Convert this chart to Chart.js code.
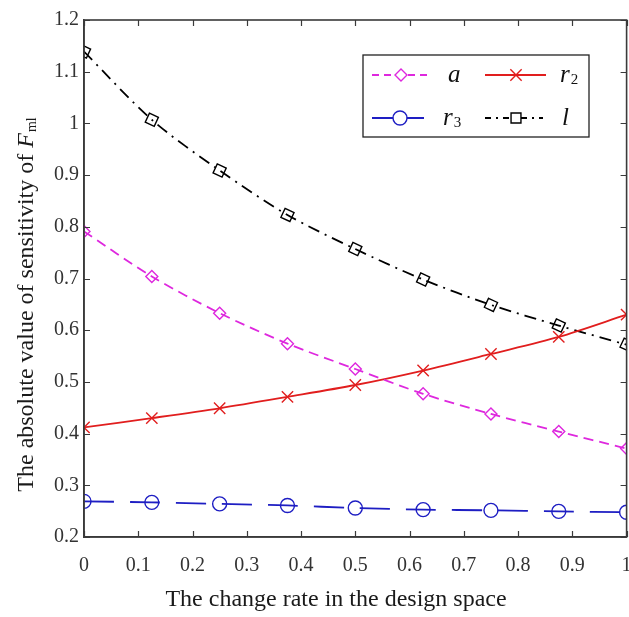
<!DOCTYPE html>
<html>
<head>
<meta charset="utf-8">
<script src="https://cdn.jsdelivr.net/npm/chart.js@4.4.1/dist/chart.umd.min.js"></script>
<style>
html,body{margin:0;padding:0;background:#fff;overflow:hidden;}
#wrap{width:629px;height:617px;overflow:hidden;}
</style>
</head>
<body>
<div id="wrap"><canvas id="c" width="636" height="617"></canvas></div>
<script>
// ---- data ----
const xValues = [0, 0.125, 0.25, 0.375, 0.5, 0.625, 0.75, 0.875, 1];
const seriesA  = [0.791, 0.704, 0.633, 0.574, 0.525, 0.477, 0.438, 0.404, 0.371];
const seriesR2 = [0.412, 0.430, 0.449, 0.471, 0.494, 0.522, 0.554, 0.587, 0.630];
const seriesR3 = [0.269, 0.267, 0.264, 0.261, 0.256, 0.253, 0.2515, 0.2495, 0.248];
const seriesL  = [1.139, 1.007, 0.909, 0.823, 0.757, 0.698, 0.649, 0.609, 0.572];
const xTickLabels = ['0','0.1','0.2','0.3','0.4','0.5','0.6','0.7','0.8','0.9','1'];
const yTickLabels = ['0.2','0.3','0.4','0.5','0.6','0.7','0.8','0.9','1','1.1','1.2'];
const xTitle = 'The change rate in the design space';
const yTitleMain = 'The absolute value of sensitivity of ';
const yTitleVar = 'F';
const yTitleSub = 'ml';
// legend: [base, subscript]
const legendNames = [['a',''],['r','2'],['r','3'],['l','']];

const FONT = '"Liberation Serif", "Times New Roman", serif';
const MAGENTA = 'rgb(222,40,222)';
const RED = 'rgb(225,30,30)';
const BLUE = 'rgb(30,30,195)';
const BLACK = 'rgb(0,0,0)';

function pts(ys){ return xValues.map((x,i)=>({x:x,y:ys[i]})); }

const datasets = [
  {label:'a', data:pts(seriesA), borderColor:MAGENTA, borderWidth:1.8, borderDash:[10,6],
   pointStyle:'rectRot', pointRadius:6, pointBorderColor:MAGENTA, pointBackgroundColor:'rgba(0,0,0,0)', pointBorderWidth:1.4, tension:0.3},
  {label:'r2', data:pts(seriesR2), borderColor:RED, borderWidth:1.8, borderDash:[],
   pointStyle:'crossRot', pointRadius:8, pointBorderColor:RED, pointBackgroundColor:'rgba(0,0,0,0)', pointBorderWidth:1.4, tension:0.3},
  {label:'r3', data:pts(seriesR3), borderColor:BLUE, borderWidth:1.8, borderDash:[30,16],
   pointStyle:'circle', pointRadius:7, pointBorderColor:BLUE, pointBackgroundColor:'rgba(0,0,0,0)', pointBorderWidth:1.4, tension:0.3},
  {label:'l', data:pts(seriesL), borderColor:BLACK, borderWidth:1.8, borderDash:[12,6,2,6],
   pointStyle:'rect', pointRadius:7, pointRotation:25, pointBorderColor:BLACK, pointBackgroundColor:'rgba(0,0,0,0)', pointBorderWidth:1.4, tension:0.3}
];
const legendDash = [[7,5],[],[],[6,5,2,5]];

const AXIS = '#3a3a3a';

const framePlugin = {
  id:'frame',
  afterDraw(chart){
    const ctx = chart.ctx, a = chart.chartArea;
    const xs = chart.scales.x, ys = chart.scales.y;
    ctx.save();
    // inward ticks
    ctx.strokeStyle = AXIS; ctx.lineWidth = 1.2;
    const TL = 6;
    xs.ticks.forEach(t=>{
      const px = Math.round(xs.getPixelForValue(t.value))+0.5;
      ctx.beginPath();
      ctx.moveTo(px,a.bottom); ctx.lineTo(px,a.bottom-TL);
      ctx.moveTo(px,a.top); ctx.lineTo(px,a.top+TL);
      ctx.stroke();
    });
    ys.ticks.forEach(t=>{
      const py = Math.round(ys.getPixelForValue(t.value))+0.5;
      ctx.beginPath();
      ctx.moveTo(a.left,py); ctx.lineTo(a.left+TL,py);
      ctx.moveTo(a.right,py); ctx.lineTo(a.right-TL,py);
      ctx.stroke();
    });
    // frame
    ctx.lineWidth = 1.6;
    ctx.strokeRect(a.left, a.top, a.right-a.left, a.bottom-a.top);

    // x title
    ctx.fillStyle = '#1a1a1a';
    ctx.font = '24px ' + FONT;
    ctx.textAlign = 'center'; ctx.textBaseline = 'middle';
    ctx.fillText(xTitle, 336, 600);

    // y title (rotated, with italic F and subscript)
    ctx.translate(33, 305);
    ctx.rotate(-Math.PI/2);
    ctx.textBaseline = 'alphabetic';
    const f1 = '24px ' + FONT, f2 = 'italic 24px ' + FONT, f3 = '14px ' + FONT;
    ctx.font = f1; const w1 = ctx.measureText(yTitleMain).width;
    ctx.font = f2; const w2 = ctx.measureText(yTitleVar).width;
    ctx.font = f3; const w3 = ctx.measureText(yTitleSub).width;
    let x0 = -(w1+w2+w3)/2;
    ctx.font = f1; ctx.textAlign='left'; ctx.fillText(yTitleMain, x0, 0);
    ctx.font = f2; ctx.fillText(yTitleVar, x0+w1, 0);
    ctx.font = f3; ctx.fillText(yTitleSub, x0+w1+w2+1, 3);
    ctx.restore();

    // legend
    ctx.save();
    const bx=363, by=55, bw=226, bh=82;
    ctx.fillStyle='#fff'; ctx.fillRect(bx,by,bw,bh);
    ctx.strokeStyle='#222'; ctx.lineWidth=1.3; ctx.strokeRect(bx,by,bw,bh);
    const cells = [
      {ds:0, lx:372, rx:428, mx:401, ty:75, tx:448},
      {ds:1, lx:485, rx:546, mx:516, ty:75, tx:560},
      {ds:2, lx:372, rx:424, mx:400, ty:118, tx:443},
      {ds:3, lx:485, rx:543, mx:516, ty:118, tx:562}
    ];
    cells.forEach(c=>{
      const d = chart.data.datasets[c.ds];
      ctx.strokeStyle = d.borderColor; ctx.lineWidth = d.borderWidth;
      ctx.setLineDash(legendDash[c.ds]);
      ctx.beginPath(); ctx.moveTo(c.lx,c.ty); ctx.lineTo(c.rx,c.ty); ctx.stroke();
      ctx.setLineDash([]);
      ctx.fillStyle='#fff';
      ctx.lineWidth = d.pointBorderWidth; ctx.strokeStyle = d.pointBorderColor;
      Chart.helpers.drawPoint(ctx, {pointStyle:d.pointStyle, radius:d.pointRadius, rotation:0, borderWidth:d.pointBorderWidth}, c.mx, c.ty);
      const nm = legendNames[c.ds];
      ctx.fillStyle='#111'; ctx.textAlign='left'; ctx.textBaseline='alphabetic';
      ctx.font = 'italic 25px ' + FONT;
      ctx.fillText(nm[0], c.tx, c.ty+7);
      if(nm[1]){
        const w = ctx.measureText(nm[0]).width;
        ctx.font = '15px ' + FONT;
        ctx.fillText(nm[1], c.tx+w+1, c.ty+9);
      }
    });
    ctx.restore();
  }
};

new Chart(document.getElementById('c'), {
  type:'line',
  data:{datasets:datasets},
  options:{
    responsive:false, animation:false, devicePixelRatio:1,
    layout:{padding:{top:20, right:0, left:0, bottom:0}},
    plugins:{legend:{display:false}, tooltip:{enabled:false}},
    elements:{line:{fill:false}},
    scales:{
      x:{type:'linear', min:0, max:1,
        afterFit(s){ s.height = 80; s.paddingRight = 0; s.paddingLeft = 0; },
        ticks:{stepSize:0.1, padding:17, color:'#333', font:{family:FONT, size:20},
          callback:(v,i)=>xTickLabels[i], maxRotation:0, autoSkip:false},
        grid:{display:false, drawTicks:false},
        border:{display:true, color:AXIS, width:1.6},
        title:{display:false, text:xTitle}
      },
      y:{type:'linear', min:0.2, max:1.2,
        afterFit(s){ s.width = 84; s.paddingTop = 0; s.paddingBottom = 0; },
        ticks:{stepSize:0.1, padding:5, color:'#333', font:{family:FONT, size:20},
          callback:(v,i)=>yTickLabels[i], autoSkip:false},
        grid:{display:false, drawTicks:false},
        border:{display:true, color:AXIS, width:1.6}
      }
    }
  },
  plugins:[framePlugin]
});
</script>
</body>
</html>
